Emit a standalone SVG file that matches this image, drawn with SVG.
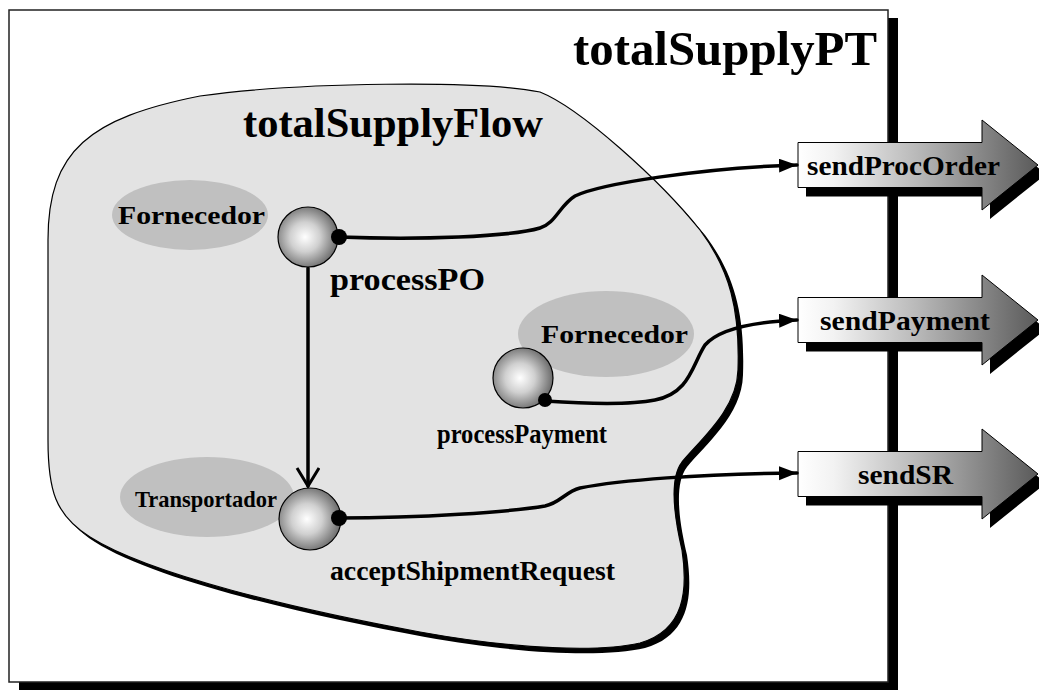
<svg xmlns="http://www.w3.org/2000/svg" xmlns:xlink="http://www.w3.org/1999/xlink" width="1039" height="690" viewBox="0 0 1039 690">
  <style>
    .lbl { font-family: "Liberation Serif", "Times New Roman", serif; font-weight: bold; fill: #000; }
    .role { fill: #c0c0c0; }
    .sphere { fill: url(#sphereGrad); stroke: #000; stroke-width: 1.2; }
    .dot { fill: #000; }
    .wire { fill: none; stroke: #000; stroke-width: 3.5; stroke-linecap: round; }
    .shadow { fill: #000; }
  </style>
  <defs>
    <radialGradient id="sphereGrad" cx="0.45" cy="0.5" r="0.55">
      <stop offset="0" stop-color="#ffffff"/>
      <stop offset="0.45" stop-color="#d0d0d0"/>
      <stop offset="1" stop-color="#6a6a6a"/>
    </radialGradient>
    <linearGradient id="ifcGrad" gradientUnits="userSpaceOnUse" x1="798" y1="0" x2="1038" y2="0">
      <stop offset="0" stop-color="#ffffff"/>
      <stop offset="0.15" stop-color="#f2f2f2"/>
      <stop offset="0.5" stop-color="#b8b8b8"/>
      <stop offset="0.8" stop-color="#808080"/>
      <stop offset="1" stop-color="#5a5a5a"/>
    </linearGradient>
    <!-- interface arrow outline, centred on y = 0 -->
    <path id="ifc" d="M798,-22.5 H982 V-45 L1038,0 L982,45 V22.5 H798 Z"/>
    <!-- flow boundary -->
    <path id="blob" d="M48,240 C48,150 90,118 200,96 C300,82 480,80 540,92 C580,108 660,180 700,230 C730,270 740,310 738,370 C737,410 700,440 682,462 C668,480 675,520 682,550 C688,590 685,630 640,643 C600,652 520,650 420,632 C300,610 150,575 90,537 C55,515 48,490 48,440 Z"/>
    <marker id="solidHead" markerUnits="userSpaceOnUse" markerWidth="20" markerHeight="16" refX="18" refY="7" orient="auto">
      <path d="M0,0 L18,7 L0,14 Z" fill="#000"/>
    </marker>
    <marker id="openHead" markerUnits="userSpaceOnUse" markerWidth="30" markerHeight="30" refX="20" refY="12" orient="auto">
      <path d="M2,1 L20,12 L2,23" fill="none" stroke="#000" stroke-width="3"/>
    </marker>
  </defs>

  <!-- port type frame -->
  <g id="totalSupplyPT">
    <rect class="shadow" x="19" y="18" width="879" height="672"/>
    <rect x="9" y="10" width="879" height="672" fill="#fff" stroke="#222" stroke-width="1.5"/>
    <text class="lbl" x="573" y="65" font-size="48" textLength="304" lengthAdjust="spacingAndGlyphs">totalSupplyPT</text>
  </g>

  <!-- flow model -->
  <g id="totalSupplyFlow">
    <use xlink:href="#blob" class="shadow" transform="translate(5,5)"/>
    <use xlink:href="#blob" fill="#e3e3e3" stroke="#000" stroke-width="1.2"/>
    <text class="lbl" x="243" y="137" font-size="42" textLength="300" lengthAdjust="spacingAndGlyphs">totalSupplyFlow</text>
  </g>

  <!-- roles -->
  <g id="role-fornecedor-1">
    <ellipse class="role" cx="190" cy="215" rx="78" ry="35"/>
    <text class="lbl" x="118" y="224" font-size="26" textLength="147" lengthAdjust="spacingAndGlyphs">Fornecedor</text>
  </g>
  <g id="role-fornecedor-2">
    <ellipse class="role" cx="606" cy="334" rx="88" ry="43"/>
    <text class="lbl" x="541" y="343" font-size="26" textLength="147" lengthAdjust="spacingAndGlyphs">Fornecedor</text>
  </g>
  <g id="role-transportador">
    <ellipse class="role" cx="207" cy="497" rx="87" ry="40"/>
    <text class="lbl" x="135" y="507" font-size="23" textLength="142" lengthAdjust="spacingAndGlyphs">Transportador</text>
  </g>

  <!-- exported interfaces -->
  <g id="sendProcOrder" transform="translate(0,165)">
    <use xlink:href="#ifc" class="shadow" transform="translate(8,9)"/>
    <use xlink:href="#ifc" fill="url(#ifcGrad)" stroke="#000" stroke-width="1"/>
    <text class="lbl" x="807" y="10" font-size="28" textLength="193" lengthAdjust="spacingAndGlyphs">sendProcOrder</text>
  </g>
  <g id="sendPayment" transform="translate(0,320)">
    <use xlink:href="#ifc" class="shadow" transform="translate(8,9)"/>
    <use xlink:href="#ifc" fill="url(#ifcGrad)" stroke="#000" stroke-width="1"/>
    <text class="lbl" x="820" y="10" font-size="28" textLength="170" lengthAdjust="spacingAndGlyphs">sendPayment</text>
  </g>
  <g id="sendSR" transform="translate(0,474)">
    <use xlink:href="#ifc" class="shadow" transform="translate(8,9)"/>
    <use xlink:href="#ifc" fill="url(#ifcGrad)" stroke="#000" stroke-width="1"/>
    <text class="lbl" x="858" y="10" font-size="28" textLength="95" lengthAdjust="spacingAndGlyphs">sendSR</text>
  </g>

  <!-- connectors -->
  <g id="connectors">
    <path class="wire" d="M308,268 V486" stroke-width="2.5" marker-end="url(#openHead)"/>
    <path class="wire" d="M339,237 C420,240 510,237 540,228 C555,224 560,205 575,196 C600,184 700,168 797,165" marker-end="url(#solidHead)"/>
    <path class="wire" d="M545,401 C590,404 630,405 655,400 C690,393 692,365 705,345 C718,330 750,322 797,320" marker-end="url(#solidHead)"/>
    <path class="wire" d="M339,518 C420,518 510,512 545,506 C560,503 565,492 580,488 C620,480 700,474 797,473" marker-end="url(#solidHead)"/>
  </g>

  <!-- activities -->
  <g id="processPO">
    <circle class="sphere" cx="308" cy="237" r="30"/>
    <circle class="dot" cx="339" cy="237" r="8"/>
    <text class="lbl" x="330" y="290" font-size="32" textLength="155" lengthAdjust="spacingAndGlyphs">processPO</text>
  </g>
  <g id="processPayment">
    <circle class="sphere" cx="523" cy="378" r="30"/>
    <circle class="dot" cx="545" cy="400" r="7"/>
    <text class="lbl" x="437" y="443" font-size="27" textLength="170" lengthAdjust="spacingAndGlyphs">processPayment</text>
  </g>
  <g id="acceptShipmentRequest">
    <circle class="sphere" cx="310" cy="519" r="31"/>
    <circle class="dot" cx="339" cy="518" r="8"/>
    <text class="lbl" x="330" y="580" font-size="27" textLength="285" lengthAdjust="spacingAndGlyphs">acceptShipmentRequest</text>
  </g>
</svg>
